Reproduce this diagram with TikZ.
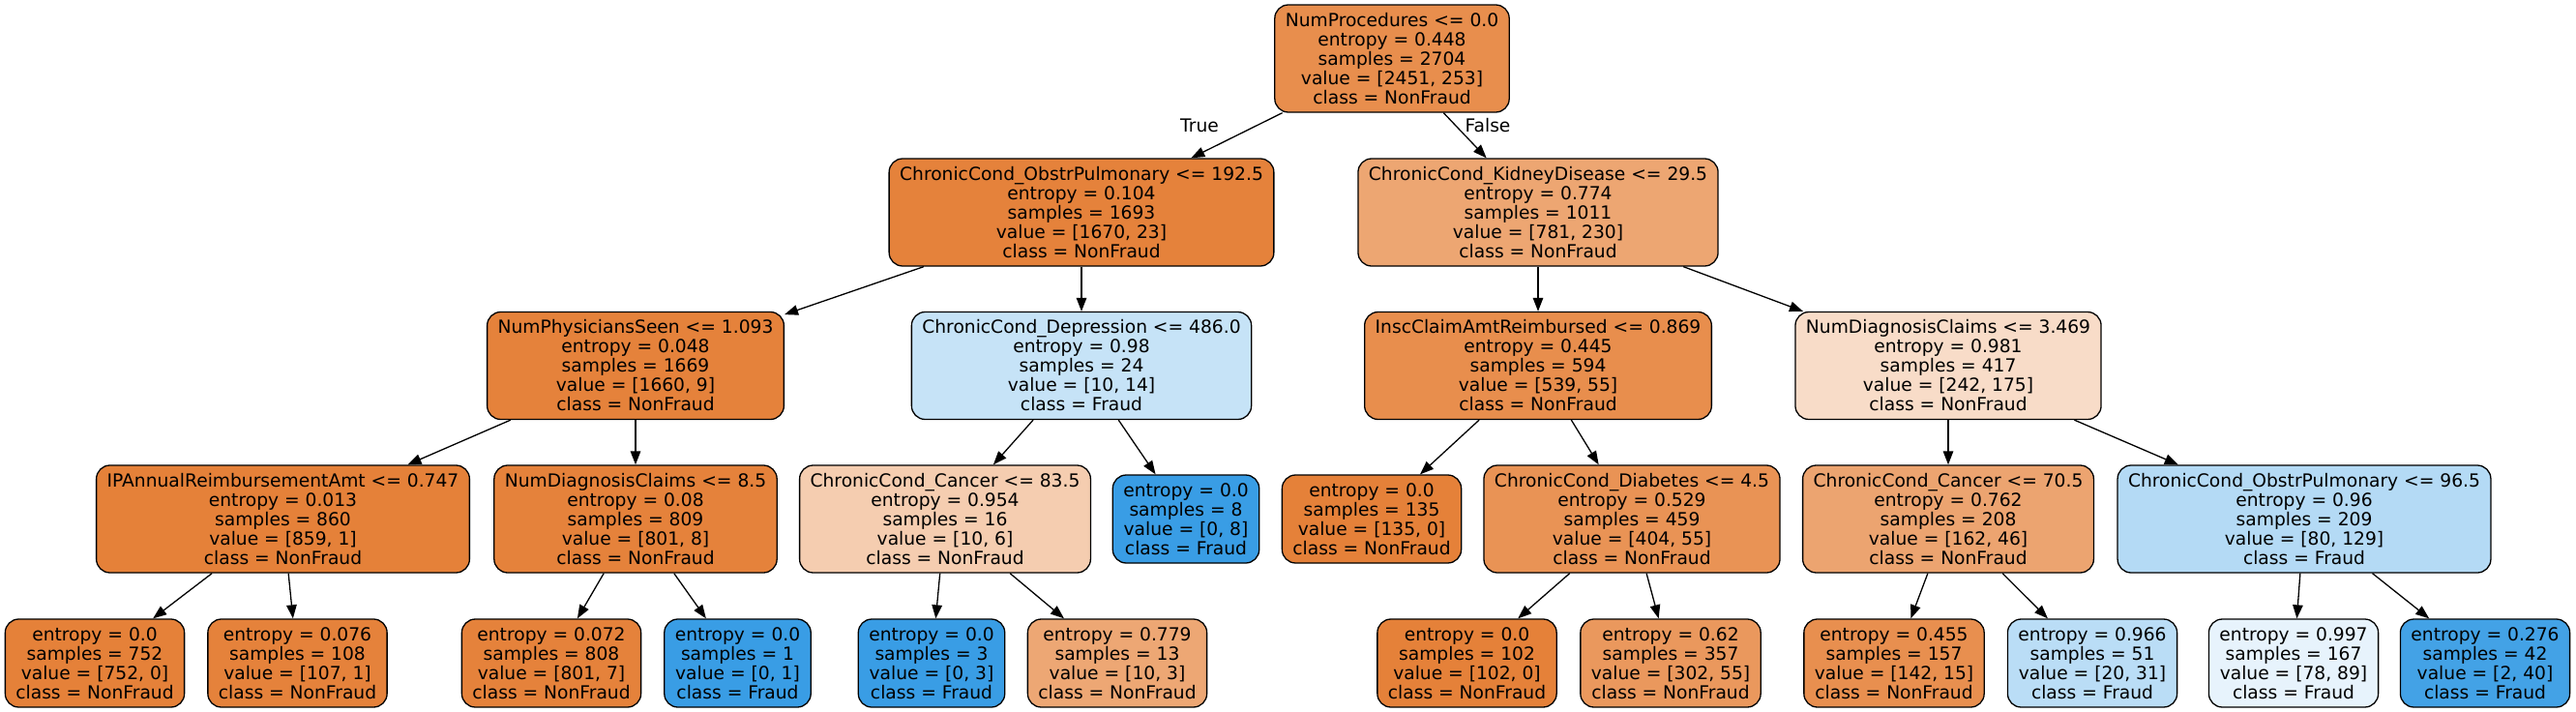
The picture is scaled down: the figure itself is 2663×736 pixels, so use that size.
\documentclass[tikz,border=0pt]{standalone}
\usepackage{fontspec}
\setmainfont{DejaVu Sans}
\usetikzlibrary{arrows.meta}
\definecolor{nonfraud}{HTML}{E58139}
\definecolor{fraud}{HTML}{399DE5}

\begin{document}
\begin{tikzpicture}[x=1pt, y=-1pt,
    box/.style={draw, rounded corners=14pt, line width=1.3pt, align=center,
        inner xsep=11pt, inner ysep=2pt, font=\fontsize{18.67}{20}\selectfont},
    split/.style={box, minimum height=111pt},
    leaf/.style={box, minimum height=91pt},
    link/.style={-{Triangle[length=14pt,width=10.5pt]}, line width=1.3pt},
    lbl/.style={font=\fontsize{18.67}{20}\selectfont}]
    \useasboundingbox (0,0) rectangle (2663,736);

    % level 0 and 1
    \node[split, fill=nonfraud!90] (root) at (1439,60.5)
        {NumProcedures <= 0.0\\entropy = 0.448\\samples = 2704\\value = [2451, 253]\\class = NonFraud};
    \node[split, fill=nonfraud!99] (obstrA) at (1118,219.5)
        {ChronicCond\_ObstrPulmonary <= 192.5\\entropy = 0.104\\samples = 1693\\value = [1670, 23]\\class = NonFraud};
    \node[split, fill=nonfraud!71] (kidney) at (1590,219.5)
        {ChronicCond\_KidneyDisease <= 29.5\\entropy = 0.774\\samples = 1011\\value = [781, 230]\\class = NonFraud};
    \node[lbl] (lblTrue) at (1240,130) {True};
    \node[lbl] (lblFalse) at (1538,130) {False};

    % level 2
    \node[split, fill=nonfraud!99] (phys) at (657,378)
        {NumPhysiciansSeen <= 1.093\\entropy = 0.048\\samples = 1669\\value = [1660, 9]\\class = NonFraud};
    \node[split, fill=fraud!29] (depress) at (1118,378)
        {ChronicCond\_Depression <= 486.0\\entropy = 0.98\\samples = 24\\value = [10, 14]\\class = Fraud};
    \node[split, fill=nonfraud!90] (insc) at (1590,378)
        {InscClaimAmtReimbursed <= 0.869\\entropy = 0.445\\samples = 594\\value = [539, 55]\\class = NonFraud};
    \node[split, fill=nonfraud!28] (diagB) at (2014,378)
        {NumDiagnosisClaims <= 3.469\\entropy = 0.981\\samples = 417\\value = [242, 175]\\class = NonFraud};

    % level 3
    \node[split, fill=nonfraud] (ipannual) at (292.5,536.5)
        {IPAnnualReimbursementAmt <= 0.747\\entropy = 0.013\\samples = 860\\value = [859, 1]\\class = NonFraud};
    \node[split, fill=nonfraud!99] (diagA) at (657,536.5)
        {NumDiagnosisClaims <= 8.5\\entropy = 0.08\\samples = 809\\value = [801, 8]\\class = NonFraud};
    \node[split, fill=nonfraud!40] (cancerA) at (977,536.5)
        {ChronicCond\_Cancer <= 83.5\\entropy = 0.954\\samples = 16\\value = [10, 6]\\class = NonFraud};
    \node[leaf, fill=fraud] (leafA) at (1226,536.5)
        {entropy = 0.0\\samples = 8\\value = [0, 8]\\class = Fraud};
    \node[leaf, fill=nonfraud] (leafB) at (1418,536.5)
        {entropy = 0.0\\samples = 135\\value = [135, 0]\\class = NonFraud};
    \node[split, fill=nonfraud!86] (diabetes) at (1687,536.5)
        {ChronicCond\_Diabetes <= 4.5\\entropy = 0.529\\samples = 459\\value = [404, 55]\\class = NonFraud};
    \node[split, fill=nonfraud!72] (cancerB) at (2014,536.5)
        {ChronicCond\_Cancer <= 70.5\\entropy = 0.762\\samples = 208\\value = [162, 46]\\class = NonFraud};
    \node[split, fill=fraud!38] (obstrB) at (2382,536.5)
        {ChronicCond\_ObstrPulmonary <= 96.5\\entropy = 0.96\\samples = 209\\value = [80, 129]\\class = Fraud};

    % level 4
    \node[leaf, fill=nonfraud] (leaf1) at (98,685.5)
        {entropy = 0.0\\samples = 752\\value = [752, 0]\\class = NonFraud};
    \node[leaf, fill=nonfraud!99] (leaf2) at (307.5,685.5)
        {entropy = 0.076\\samples = 108\\value = [107, 1]\\class = NonFraud};
    \node[leaf, fill=nonfraud!99] (leaf3) at (570,685.5)
        {entropy = 0.072\\samples = 808\\value = [801, 7]\\class = NonFraud};
    \node[leaf, fill=fraud] (leaf4) at (762.5,685.5)
        {entropy = 0.0\\samples = 1\\value = [0, 1]\\class = Fraud};
    \node[leaf, fill=fraud] (leaf5) at (963,685.5)
        {entropy = 0.0\\samples = 3\\value = [0, 3]\\class = Fraud};
    \node[leaf, fill=nonfraud!70] (leaf6) at (1155,685.5)
        {entropy = 0.779\\samples = 13\\value = [10, 3]\\class = NonFraud};
    \node[leaf, fill=nonfraud] (leaf7) at (1516.5,685.5)
        {entropy = 0.0\\samples = 102\\value = [102, 0]\\class = NonFraud};
    \node[leaf, fill=nonfraud!82] (leaf8) at (1727,685.5)
        {entropy = 0.62\\samples = 357\\value = [302, 55]\\class = NonFraud};
    \node[leaf, fill=nonfraud!89] (leaf9) at (1958,685.5)
        {entropy = 0.455\\samples = 157\\value = [142, 15]\\class = NonFraud};
    \node[leaf, fill=fraud!35] (leaf10) at (2163,685.5)
        {entropy = 0.966\\samples = 51\\value = [20, 31]\\class = Fraud};
    \node[leaf, fill=fraud!12] (leaf11) at (2371,685.5)
        {entropy = 0.997\\samples = 167\\value = [78, 89]\\class = Fraud};
    \node[leaf, fill=fraud!95] (leaf12) at (2569,685.5)
        {entropy = 0.276\\samples = 42\\value = [2, 40]\\class = Fraud};

    \draw[link] (root) -- (obstrA);
    \draw[link] (root) -- (kidney);
    \draw[link] (obstrA) -- (phys);
    \draw[link] (obstrA) -- (depress);
    \draw[link] (kidney) -- (insc);
    \draw[link] (kidney) -- (diagB);
    \draw[link] (phys) -- (ipannual);
    \draw[link] (phys) -- (diagA);
    \draw[link] (depress) -- (cancerA);
    \draw[link] (depress) -- (leafA);
    \draw[link] (insc) -- (leafB);
    \draw[link] (insc) -- (diabetes);
    \draw[link] (diagB) -- (cancerB);
    \draw[link] (diagB) -- (obstrB);
    \draw[link] (ipannual) -- (leaf1);
    \draw[link] (ipannual) -- (leaf2);
    \draw[link] (diagA) -- (leaf3);
    \draw[link] (diagA) -- (leaf4);
    \draw[link] (cancerA) -- (leaf5);
    \draw[link] (cancerA) -- (leaf6);
    \draw[link] (diabetes) -- (leaf7);
    \draw[link] (diabetes) -- (leaf8);
    \draw[link] (cancerB) -- (leaf9);
    \draw[link] (cancerB) -- (leaf10);
    \draw[link] (obstrB) -- (leaf11);
    \draw[link] (obstrB) -- (leaf12);
\end{tikzpicture}
\end{document}
